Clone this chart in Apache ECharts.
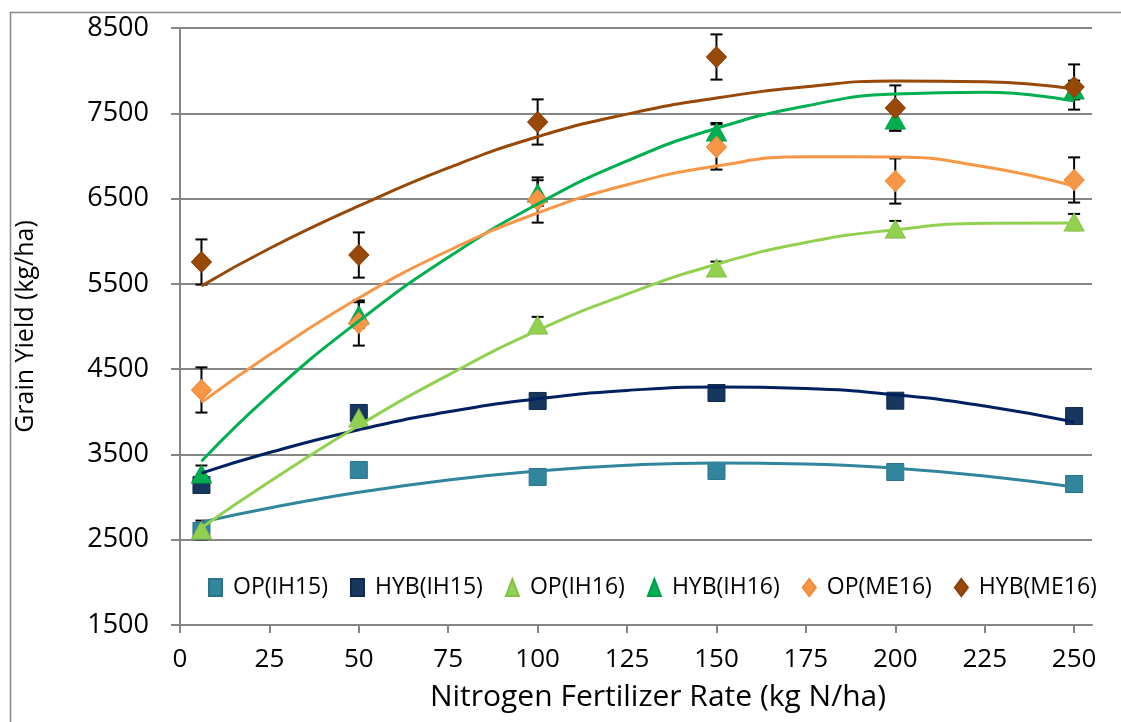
<!DOCTYPE html>
<html>
<head>
<meta charset="utf-8">
<script src="https://cdn.jsdelivr.net/npm/echarts@6/dist/echarts.min.js"></script>
<style>
html,body{margin:0;padding:0;background:#fff;}
#chart{width:1121px;height:722px;}
</style>
</head>
<body>
<div id="chart"></div>
<script>
// ---- data ----
const xValues = [6, 50, 100, 150, 200, 250];
const seriesNames = ['OP(IH15)', 'HYB(IH15)', 'OP(IH16)', 'HYB(IH16)', 'OP(ME16)', 'HYB(ME16)'];

const opIH15  = [2602, 3318, 3236, 3306, 3294, 3153];
const hybIH15 = [3142, 3986, 4127, 4220, 4130, 3950];
const opIH16  = [2614, 3927, 5018, 5686, 6143, 6225];
const hybIH16 = [3270, 5135, 6565, 7281, 7421, 7773];
const opME16  = [4256, 5041, 6483, 7105, 6706, 6718];
const hybME16 = [5756, 5838, 7398, 8160, 7562, 7808];

// error bar half-lengths
const errOpIH15  = [60, 60, 60, 60, 60, 60];
const errHybIH15 = [60, 60, 60, 60, 60, 60];
const errOpIH16  = [110, 90, 95, 75, 95, 95];
const errHybIH16 = [100, 150, 150, 105, 125, 110];
const errOpME16  = [265, 265, 265, 265, 265, 265];
const errHybME16 = [265, 265, 265, 265, 265, 265];

// polynomial trendlines, values
const trendX       = [6, 25, 50, 75, 100, 125, 150, 175, 200, 225, 250];
const trendOpIH15  = [2706, 2872, 3056, 3201, 3306, 3373, 3400, 3388, 3338, 3248, 3118];
const trendHybIH15 = [3281, 3522, 3789, 4000, 4153, 4250, 4290, 4273, 4199, 4068, 3880];
const trendOpIH16  = [2640, 3180, 3840, 4430, 4955, 5380, 5730, 5985, 6135, 6210, 6214];
const trendHybIH16 = [3420, 4196, 5064, 5811, 6436, 6941, 7324, 7586, 7727, 7746, 7644];
const trendOpME16  = [4110, 4669, 5334, 5888, 6331, 6662, 6882, 6991, 6987, 6873, 6647];
const trendHybME16 = [5475, 5915, 6413, 6860, 7225, 7490, 7679, 7810, 7880, 7870, 7785];

const xTicks = [0, 25, 50, 75, 100, 125, 150, 175, 200, 225, 250];
const yTicks = [1500, 2500, 3500, 4500, 5500, 6500, 7500, 8500];

// ---- styles ----
const values = [opIH15, hybIH15, opIH16, hybIH16, opME16, hybME16];
const errs = [errOpIH15, errHybIH15, errOpIH16, errHybIH16, errOpME16, errHybME16];
const trends = [trendOpIH15, trendHybIH15, trendOpIH16, trendHybIH16, trendOpME16, trendHybME16];
const fillColors = ['#31859C', '#17375E', '#92D050', '#00B050', '#F79646', '#984807'];
const lineColors = ['#31859C', '#002060', '#92D050', '#00B050', '#F79646', '#984807'];
const borderColors = ['#2A7388', '#0E2A4E', '#86C046', '#00A048', '#F08A38', '#8A4006'];
const symbols = ['rect', 'rect', 'triangle', 'triangle', 'diamond', 'diamond'];
const symbolSizes = [17, 17, [20, 18], [20, 18], [20, 21], [20, 21]];

const FONT = 'Open Sans';
const series = [];

values.forEach(function (vals, i) {
  series.push({
    type: 'custom',
    silent: true,
    z: 2,
    renderItem: function (params, api) {
      const x = api.value(0);
      const top = api.coord([x, api.value(2)]);
      const bot = api.coord([x, api.value(1)]);
      const hw = 6;
      const st = { stroke: '#000', lineWidth: 2 };
      return {
        type: 'group',
        children: [
          { type: 'line', shape: { x1: top[0], y1: top[1], x2: bot[0], y2: bot[1] }, style: st },
          { type: 'line', shape: { x1: top[0] - hw, y1: top[1], x2: top[0] + hw, y2: top[1] }, style: st },
          { type: 'line', shape: { x1: bot[0] - hw, y1: bot[1], x2: bot[0] + hw, y2: bot[1] }, style: st }
        ]
      };
    },
    encode: { x: 0, y: [1, 2] },
    data: xValues.map(function (x, k) { return [x, vals[k] - errs[i][k], vals[k] + errs[i][k]]; })
  });
  series.push({
    name: seriesNames[i],
    type: 'scatter',
    z: 3 + i * 0.01,
    symbol: symbols[i],
    symbolSize: symbolSizes[i],
    itemStyle: { color: fillColors[i], borderColor: borderColors[i], borderWidth: 1, opacity: 1 },
    data: xValues.map(function (x, k) { return [x, vals[k]]; })
  });
});

trends.forEach(function (t, i) {
  series.push({
    type: 'line',
    silent: true,
    z: 4,
    smooth: 0.5,
    showSymbol: false,
    symbol: 'none',
    lineStyle: { color: lineColors[i], width: 3 },
    data: trendX.map(function (x, k) { return [x, t[k]]; })
  });
});

const chart = echarts.init(document.getElementById('chart'), null, { renderer: 'canvas' });
chart.setOption({
  animation: false,
  backgroundColor: '#fff',
  textStyle: { fontFamily: FONT },
  graphic: [{
    type: 'rect',
    left: 8, top: 10,
    shape: { width: 1200, height: 800 },
    style: { fill: 'none', stroke: '#888', lineWidth: 1.5 },
    silent: true, z: -1
  }],
  grid: { left: 180, right: 29, top: 28, bottom: 97, containLabel: false },
  legend: {
    data: seriesNames,
    left: 203,
    top: 571,
    itemWidth: 13,
    itemHeight: 17,
    itemGap: 22,
    textStyle: { fontFamily: FONT, fontSize: 23, color: '#000', padding: [0, 0, 0, 6] }
  },
  xAxis: {
    type: 'value',
    min: 0,
    max: 255,
    interval: 25,
    name: 'Nitrogen Fertilizer Rate (kg N/ha)',
    nameLocation: 'middle',
    nameGap: 57,
    nameTextStyle: { fontFamily: FONT, fontSize: 30, color: '#000', padding: [0, 0, 0, 44] },
    axisLine: { show: true, onZero: false, lineStyle: { color: '#868686', width: 2 } },
    axisTick: { show: true, length: 8, customValues: xTicks, lineStyle: { color: '#868686', width: 2 } },
    axisLabel: { customValues: xTicks, fontFamily: FONT, fontSize: 26, color: '#000', margin: 22 },
    splitLine: { show: false }
  },
  yAxis: {
    type: 'value',
    min: yTicks[0],
    max: yTicks[yTicks.length - 1],
    interval: 1000,
    name: 'Grain Yield (kg/ha)',
    nameLocation: 'middle',
    nameGap: 142,
    nameTextStyle: { fontFamily: FONT, fontSize: 25, color: '#000' },
    axisLine: { show: true, lineStyle: { color: '#868686', width: 2 } },
    axisTick: { show: true, length: 9, lineStyle: { color: '#868686', width: 2 } },
    axisLabel: { fontFamily: FONT, fontSize: 27, color: '#000', margin: 31, formatter: function (v) { return String(v); } },
    splitLine: { show: true, lineStyle: { color: '#868686', width: 2 } }
  },
  series: series
});
</script>
</body>
</html>
